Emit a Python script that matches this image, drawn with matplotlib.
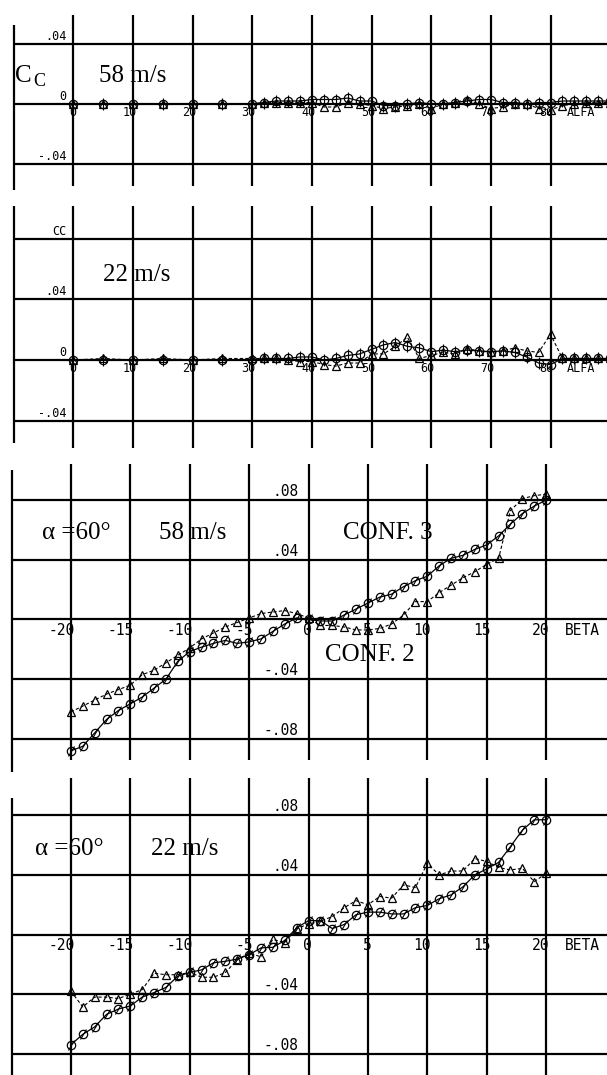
import matplotlib
matplotlib.use('Agg')
import matplotlib.pyplot as plt
from matplotlib.markers import MarkerStyle
from matplotlib.transforms import Affine2D

W, H = 607, 1075

# ---- data ----
alfa = [0, 5, 10, 15, 20, 25, 30, 32, 34, 36, 38, 40, 42, 44, 46, 48, 50,
        52, 54, 56, 58, 60, 62, 64, 66, 68, 70, 72, 74, 76, 78, 80, 82, 84,
        86, 88, 90]

# C_C vs ALFA, 58 m/s
cc58_o = [0.0, 0.0, 0.0, 0.0, 0.0, 0.0, 0.0, 0.001, 0.002, 0.002, 0.002,
          0.003, 0.003, 0.003, 0.004, 0.002, 0.002, -0.001, -0.001, 0.0,
          0.001, 0.0, 0.0, 0.001, 0.002, 0.003, 0.003, 0.001, 0.001, 0.0,
          0.001, 0.001, 0.002, 0.002, 0.002, 0.002, 0.002]
cc58_t = [0.0, 0.0, 0.0, 0.0, 0.0, 0.0, 0.0, 0.001, 0.001, 0.001, 0.001,
          0.001, -0.002, -0.002, 0.001, 0.0, -0.001, -0.003, -0.002, -0.001,
          0.0, -0.003, 0.0, 0.001, 0.003, 0.0, -0.003, -0.002, 0.0, 0.0,
          -0.003, -0.004, -0.001, 0.0, 0.001, 0.001, 0.001]

# C_C vs ALFA, 22 m/s
cc22_o = [0.0, 0.0, 0.0, 0.0, 0.0, 0.0, 0.0, 0.001, 0.001, 0.001, 0.002,
          0.002, 0.0, 0.001, 0.003, 0.004, 0.007, 0.010, 0.0115, 0.009,
          0.008, 0.0055, 0.0065, 0.0055, 0.0065, 0.006, 0.0055, 0.006, 0.005,
          0.002, -0.002, -0.003, 0.001, 0.001, 0.001, 0.001, 0.001]
cc22_t = [0.0, 0.001, 0.0, 0.001, 0.0, 0.001, 0.001, 0.001, 0.001, 0.0,
          -0.001, -0.001, -0.003, -0.004, -0.002, -0.002, 0.004, 0.004, 0.009,
          0.015, 0.001, 0.003, 0.005, 0.004, 0.0075, 0.006, 0.005, 0.006,
          0.008, 0.006, 0.005, 0.017, 0.001, 0.001, 0.001, 0.001, 0.001]

beta = [-20, -19, -18, -17, -16, -15, -14, -13, -12, -11, -10, -9, -8, -7,
        -6, -5, -4, -3, -2, -1, 0, 1, 2, 3, 4, 5, 6, 7, 8, 9, 10, 11, 12, 13,
        14, 15, 16, 17, 18, 19, 20]

# alpha = 60 deg, 58 m/s
b58_o = [-0.088, -0.085, -0.076, -0.067, -0.061, -0.0565, -0.052, -0.046,
         -0.040, -0.028, -0.0215, -0.0185, -0.016, -0.014, -0.016, -0.015,
         -0.013, -0.008, -0.003, 0.001, 0.0, -0.001, -0.001, 0.003, 0.007,
         0.011, 0.015, 0.017, 0.022, 0.026, 0.029, 0.036, 0.041, 0.043, 0.047,
         0.050, 0.056, 0.064, 0.071, 0.076, 0.080]
b58_t = [-0.062, -0.058, -0.054, -0.050, -0.047, -0.044, -0.037, -0.034,
         -0.029, -0.024, -0.019, -0.013, -0.009, -0.005, -0.002, 0.001,
         0.004, 0.005, 0.006, 0.004, 0.001, -0.004, -0.004, -0.005, -0.007,
         -0.007, -0.006, -0.003, 0.003, 0.012, 0.012, 0.018, 0.023, 0.028,
         0.032, 0.037, 0.041, 0.073, 0.081, 0.083, 0.084]

# alpha = 60 deg, 22 m/s
b22_o = [-0.074, -0.067, -0.062, -0.0536, -0.050, -0.048, -0.042, -0.039,
         -0.0355, -0.028, -0.0255, -0.0237, -0.019, -0.018, -0.0165, -0.0136,
         -0.009, -0.0086, -0.004, 0.0045, 0.0093, 0.0093, 0.004, 0.0067,
         0.0133, 0.015, 0.015, 0.0138, 0.0138, 0.018, 0.0195, 0.024, 0.0266,
         0.032, 0.040, 0.044, 0.0484, 0.059, 0.070, 0.077, 0.077]
b22_t = [-0.038, -0.0486, -0.042, -0.042, -0.043, -0.040, -0.037, -0.026,
         -0.027, -0.027, -0.0255, -0.0287, -0.0287, -0.0255, -0.017, -0.0124,
         -0.015, -0.0033, -0.0054, 0.004, 0.007, 0.009, 0.012, 0.018, 0.0227,
         0.020, 0.0255, 0.0244, 0.0333, 0.0315, 0.0477, 0.040, 0.0426, 0.0426,
         0.051, 0.049, 0.045, 0.0433, 0.0444, 0.0355, 0.041]

alfa_ticks = [0, 10, 20, 30, 40, 50, 60, 70, 80]
beta_ticks = [-20, -15, -10, -5, 0, 5, 10, 15, 20]

fig = plt.figure(figsize=(W / 100, H / 100), dpi=100)
fig.patch.set_facecolor('white')

MONO = 'DejaVu Sans Mono'
SERIF = 'Liberation Serif'
GRID_LW = 1.6
K = 'black'


def make_panel(top, bot, x0, xs, y0, ys):
    """axes spanning image rows top..bot; x0/y0 = pixel of data origin,
    xs/ys = pixels per data unit"""
    ax = fig.add_axes([0, 1 - bot / H, 1, (bot - top) / H])
    ax.set_xlim(-x0 / xs, (W - x0) / xs)
    ax.set_ylim(-(bot - y0) / ys, (y0 - top) / ys)
    ax.axis('off')
    conv = lambda py: (y0 - py) / ys
    return ax, conv


def draw_series(ax, x, yo, yt, slash_deg):
    tick = MarkerStyle('|', transform=Affine2D().rotate_deg(slash_deg))
    ax.plot(x, yt, ls=(0, (3, 2)), lw=0.8, color=K, marker='^', ms=5.5,
            mfc='none', mec=K, mew=0.9)
    ax.plot(x, yo, ls='-', lw=0.9, color=K, marker='o', ms=6,
            mfc='none', mec=K, mew=0.9)
    ax.plot(x, yo, ls='none', marker=tick, ms=8, mec=K, mew=0.8)


def grid(ax, conv, xs_lines, border, vtop, vbot, btop, bbot, hlines, xright):
    ax.vlines(xs_lines, conv(vbot), conv(vtop), color=K, lw=GRID_LW)
    ax.vlines([border], conv(bbot), conv(btop), color=K, lw=GRID_LW)
    ax.hlines(hlines, border, xright, color=K, lw=GRID_LW)


def xlabels(ax, ticks, fs, dy, tail, tail_x):
    for t in ticks:
        ax.annotate(str(t), (t, 0), xytext=(3.5, -dy),
                    textcoords='offset pixels', ha='right', va='top',
                    fontsize=fs, family=MONO)
    ax.annotate(tail, (tail_x, 0), xytext=(0, -dy),
                textcoords='offset pixels', ha='left', va='top',
                fontsize=fs, family=MONO)


def ylabels(ax, labels, xpos, fs):
    for v, s in labels:
        ax.annotate(s, (xpos, v), xytext=(0, 1), textcoords='offset pixels',
                    ha='right', va='bottom', fontsize=fs, family=MONO)


def ftext(px, py, s, size=18, ha='left'):
    fig.text(px / W, 1 - py / H, s, fontsize=size, family=SERIF,
             ha=ha, va='center')


# ---- panel 1 : C_C vs ALFA, 58 m/s ----
ax1, c1 = make_panel(0, 200, 73.3, 5.965, 104, 1500)
grid(ax1, c1, alfa_ticks, -10, 15, 186, 25, 190, [0.04, 0, -0.04], 95)
draw_series(ax1, alfa, cc58_o, cc58_t, 0)
xlabels(ax1, alfa_ticks, 8.5, 2, 'ALFA', 82.8)
ylabels(ax1, [(0.04, '.04'), (0, '0'), (-0.04, '-.04')], -1.2, 8.5)
ftext(15, 76, 'C', 18)
ftext(33, 81, 'C', 13)
ftext(99, 76, '58 m/s')

# ---- panel 2 : C_C vs ALFA, 22 m/s ----
ax2, c2 = make_panel(200, 460, 73.3, 5.965, 360, 1517)
grid(ax2, c2, alfa_ticks, -10, 206, 448, 206, 443,
     [0.08, 0.04, 0, -0.04], 95)
draw_series(ax2, alfa, cc22_o, cc22_t, 0)
xlabels(ax2, alfa_ticks, 8.5, 2, 'ALFA', 82.8)
ylabels(ax2, [(0.08, 'CC'), (0.04, '.04'), (0, '0'), (-0.04, '-.04')],
        -1.2, 8.5)
ftext(103, 275, '22 m/s')

# ---- panel 3 : alpha 60, 58 m/s vs BETA ----
ax3, c3 = make_panel(460, 775, 308.5, 11.88, 619.5, 1492)
grid(ax3, c3, beta_ticks, -25, 464, 760, 470, 772,
     [0.08, 0.04, 0, -0.04, -0.08], 30)
draw_series(ax3, beta, b58_o, b58_t, -35)
xlabels(ax3, beta_ticks, 10.5, 4, 'BETA', 21.6)
ylabels(ax3, [(0.08, '.08'), (0.04, '.04'), (-0.04, '-.04'),
              (-0.08, '-.08')], -0.8, 10.5)
ftext(42, 533, '\u03b1 =60\u00b0')
ftext(159, 533, '58 m/s')
ftext(343, 533, 'CONF. 3')
ftext(325, 655, 'CONF. 2')

# ---- panel 4 : alpha 60, 22 m/s vs BETA ----
ax4, c4 = make_panel(775, 1075, 308.5, 11.88, 934.5, 1490)
grid(ax4, c4, beta_ticks, -25, 778, 1075, 798, 1075,
     [0.08, 0.04, 0, -0.04, -0.08], 30)
draw_series(ax4, beta, b22_o, b22_t, -35)
xlabels(ax4, beta_ticks, 10.5, 4, 'BETA', 21.6)
ylabels(ax4, [(0.08, '.08'), (0.04, '.04'), (-0.04, '-.04'),
              (-0.08, '-.08')], -0.8, 10.5)
ftext(35, 849, '\u03b1 =60\u00b0')
ftext(151, 849, '22 m/s')

fig.savefig('out.png', dpi=100, facecolor='white')
